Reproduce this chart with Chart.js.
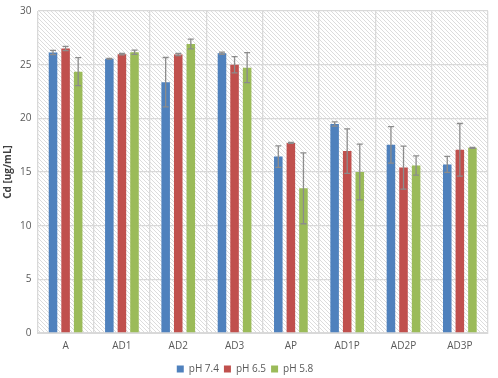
<!DOCTYPE html>
<html>
<head>
<meta charset="utf-8">
<script src="https://cdn.jsdelivr.net/npm/chart.js@4.4.1/dist/chart.umd.min.js"></script>
<style>
  html, body { margin: 0; padding: 0; background: #fff; }
  #wrap { width: 498px; height: 378px; }
</style>
</head>
<body>
<div id="wrap"><canvas id="cdChart" width="498" height="378"></canvas></div>
<script>
const samples = ["A", "AD1", "AD2", "AD3", "AP", "AD1P", "AD2P", "AD3P"];
const ph74 = [26.13, 25.55, 23.37, 26.07, 16.44, 19.47, 17.53, 15.71];
const ph65 = [26.5, 25.98, 25.94, 24.99, 17.71, 16.95, 15.41, 17.07];
const ph58 = [24.35, 26.15, 26.93, 24.72, 13.48, 15.0, 15.6, 17.25];
const err74 = [0.2, 0.04, 2.3, 0.1, 1.0, 0.2, 1.7, 0.75];
const err65 = [0.2, 0.07, 0.1, 0.75, 0.05, 2.07, 2.0, 2.45];
const err58 = [1.3, 0.2, 0.45, 1.4, 3.3, 2.6, 0.9, 0.05];

// hatched plot background
const hatch = (() => {
    const c = document.createElement("canvas");
    c.width = 4; c.height = 4;
    const g = c.getContext("2d");
    g.fillStyle = "#ffffff";
    g.fillRect(0, 0, 4, 4);
    g.strokeStyle = "#dcdcdc";
    g.lineWidth = 1;
    g.beginPath();
    g.moveTo(0, 0); g.lineTo(4, 4);
    g.moveTo(-1, 3); g.lineTo(1, 5);
    g.moveTo(3, -1); g.lineTo(5, 1);
    g.stroke();
    return g.createPattern(c, "repeat");
})();

const bgPlugin = {
    id: "hatchBg",
    beforeDraw(chart) {
        const { ctx, chartArea: a } = chart;
        ctx.save();
        ctx.fillStyle = hatch;
        ctx.fillRect(a.left, a.top, a.right - a.left, a.bottom - a.top);
        ctx.restore();
    }
};

const errPlugin = {
    id: "errBars",
    afterDatasetsDraw(chart) {
        const ctx = chart.ctx;
        const y = chart.scales.y;
        ctx.save();
        ctx.strokeStyle = "#8c8c8c";
        ctx.lineWidth = 1.3;
        chart.data.datasets.forEach((ds, di) => {
            const meta = chart.getDatasetMeta(di);
            meta.data.forEach((bar, i) => {
                const v = ds.data[i], e = ds.errors[i];
                const top = y.getPixelForValue(v + e);
                const bot = y.getPixelForValue(v - e);
                const x = bar.x;
                ctx.beginPath();
                ctx.moveTo(x, top); ctx.lineTo(x, bot);
                ctx.moveTo(x - 3, top); ctx.lineTo(x + 3, top);
                ctx.moveTo(x - 3, bot); ctx.lineTo(x + 3, bot);
                ctx.stroke();
            });
        });
        ctx.restore();
    }
};

const ctx = document.getElementById("cdChart");
const cdChart = new Chart(ctx, {
    type: "bar",
    data: {
        labels: samples,
        datasets: [
            { label: "pH 7.4", data: ph74, errors: err74, backgroundColor: "#4f81bd" },
            { label: "pH 6.5", data: ph65, errors: err65, backgroundColor: "#c0504d" },
            { label: "pH 5.8", data: ph58, errors: err58, backgroundColor: "#9bbb59" }
        ]
    },
    options: {
        responsive: false,
        animation: false,
        devicePixelRatio: 1,
        layout: { padding: { left: 2, right: 10, top: 0, bottom: -6 } },
        datasets: {
            bar: { categoryPercentage: 0.67, barPercentage: 0.68 }
        },
        plugins: {
            legend: {
                position: "bottom",
                labels: {
                    boxWidth: 7,
                    boxHeight: 7,
                    padding: 5,
                    color: "#595959",
                    font: { family: "Open Sans", size: 10 }
                }
            },
            tooltip: { enabled: false }
        },
        scales: {
            x: {
                grid: { color: "#d9d9d9", lineWidth: 1.3, drawTicks: false },
                border: { color: "#d9d9d9" },
                ticks: { color: "#595959", padding: 7, font: { family: "Open Sans", size: 10 } }
            },
            y: {
                min: 0,
                max: 30,
                ticks: { stepSize: 5, color: "#595959", padding: 6, font: { family: "Open Sans", size: 10, lineHeight: 1 } },
                grid: { color: "#d9d9d9", lineWidth: 1.3, drawTicks: false },
                border: { color: "#d9d9d9" },
                title: {
                    display: true,
                    text: "Cd [ug/mL]",
                    color: "#404040",
                    font: { family: "Open Sans", size: 10, weight: "bold" },
                    padding: { top: 0, bottom: 0 }
                }
            }
        }
    },
    plugins: [bgPlugin, errPlugin]
});
</script>
</body>
</html>
